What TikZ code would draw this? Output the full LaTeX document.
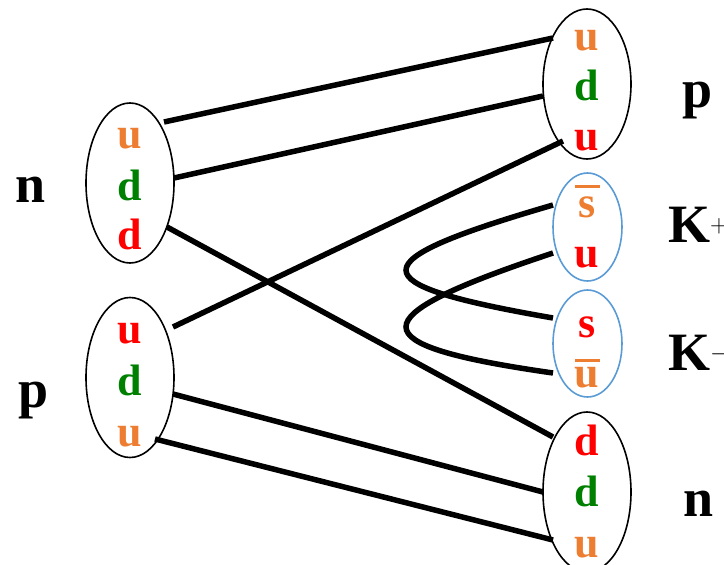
\documentclass[tikz,border=0pt]{standalone}
\usepackage{fontspec}
\setmainfont{Liberation Serif}
\usetikzlibrary{shapes.geometric}
\definecolor{qorange}{HTML}{ED7D31}
\definecolor{qgreen}{HTML}{008000}
\definecolor{qred}{HTML}{FF0000}
\definecolor{kblue}{HTML}{5B9BD5}
\newcommand{\qbarred}[2]{\ooalign{\hfil\rule[#1]{25pt}{3pt}\hfil\cr\hfil#2\hfil\cr}}
\begin{document}
\begin{tikzpicture}[x=1pt,y=-1pt,
  quark/.style={anchor=base,inner sep=0pt,font=\fontsize{44}{50}\selectfont\bfseries},
  lab/.style={anchor=base,inner sep=0pt,font=\fontsize{54}{60}\selectfont\bfseries},
  bag/.style={draw=black,line width=1.6pt,ellipse,inner sep=0pt,outer sep=0pt},
  kbag/.style={draw=kblue,line width=1.6pt,ellipse,inner sep=0pt,outer sep=0pt},
  gluon/.style={draw=black,line width=5.5pt}]
\useasboundingbox (0,0) rectangle (724,565);
% bags
\node[bag,minimum width=88pt,minimum height=160pt] (nL) at (130,183) {};
\node[bag,minimum width=88pt,minimum height=160pt] (pL) at (130,377.5) {};
\node[bag,minimum width=88pt,minimum height=150pt] (pR) at (587,84) {};
\node[bag,minimum width=88pt,minimum height=160pt] (nR) at (587,492) {};
\node[kbag,minimum width=69pt,minimum height=108pt] (kp) at (587.5,227) {};
\node[kbag,minimum width=69pt,minimum height=107pt] (km) at (587.5,343.5) {};
% quarks
\node[quark,text=qorange] (nLu) at (130,148) {u};
\node[quark,text=qgreen] (nLd1) at (130,200) {d};
\node[quark,text=qred] (nLd2) at (130,249) {d};
\node[quark,text=qred] (pLu1) at (130,343) {u};
\node[quark,text=qgreen] (pLd) at (130,395) {d};
\node[quark,text=qorange] (pLu2) at (130,446) {u};
\node[quark,text=qorange] (pRu1) at (587,50) {u};
\node[quark,text=qgreen] (pRd) at (587,100) {d};
\node[quark,text=qred] (pRu2) at (587,150) {u};
\node[quark,text=qorange] (kps) at (587,217) {\qbarred{29pt}{s}};
\node[quark,text=qred] (kpu) at (587,267) {u};
\node[quark,text=qred] (kms) at (587,337) {s};
\node[quark,text=qorange] (kmu) at (587,387) {\qbarred{25pt}{u}};
\node[quark,text=qred] (nRd1) at (587,455) {d};
\node[quark,text=qgreen] (nRd2) at (587,506) {d};
\node[quark,text=qorange] (nRu) at (587,557) {u};
% labels
\node[lab] (labnL) at (31,202) {n};
\node[lab] (labpL) at (34,407) {p};
\node[lab] (labpR) at (698,107) {p};
\node[lab] (labnR) at (699,516) {n};
\node[lab,anchor=base west] (labkp) at (668,242) {K$^{+}$};
\node[lab,anchor=base west] (labkm) at (668,370) {K$^{-}$};
% line ends
\coordinate (a1) at (164,122);
\coordinate (a2) at (174,178);
\coordinate (a3) at (167,227);
\coordinate (b1) at (173,327);
\coordinate (b2) at (173,394);
\coordinate (b3) at (155,439);
\coordinate (c1) at (553,38);
\coordinate (c2) at (543,96);
\coordinate (c3) at (563,141);
\coordinate (d1) at (553,437);
\coordinate (d2) at (543,492);
\coordinate (d3) at (553,540);
\coordinate (e1) at (553,205);
\coordinate (e2) at (553,253);
\coordinate (f1) at (553,318);
\coordinate (f2) at (553,373);
% connectors
\draw[gluon] (a1) -- (c1);
\draw[gluon] (a2) -- (c2);
\draw[gluon] (a3) -- (d1);
\draw[gluon] (b1) -- (c3);
\draw[gluon] (b2) -- (d2);
\draw[gluon] (b3) -- (d3);
\draw[gluon] (e1) .. controls (357,262) and (357,284) .. (f1);
\draw[gluon] (e2) .. controls (357,318) and (357,345) .. (f2);
\end{tikzpicture}
\end{document}
